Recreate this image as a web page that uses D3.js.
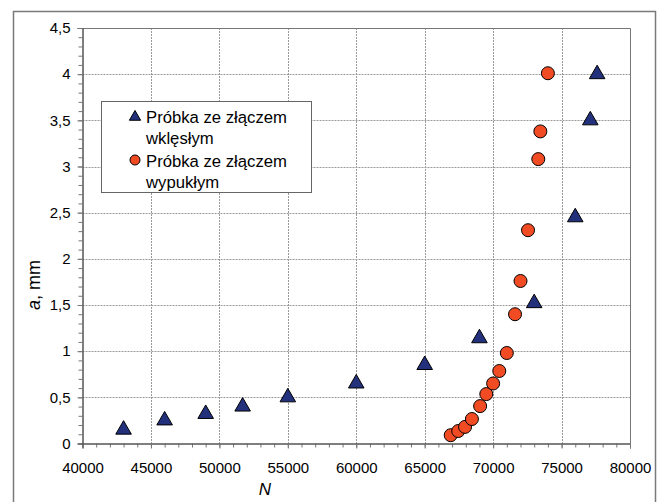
<!DOCTYPE html>
<html>
<head>
<meta charset="utf-8">
<style>
body { margin: 0; background: #fff; }
text { font-family: "Liberation Sans", Arial, sans-serif; fill: #000; }
.grid line { stroke: #9a9a9a; stroke-width: 1; stroke-dasharray: 2,1; }
</style>
<title></title>
</head>
<body>
<script src="https://cdn.jsdelivr.net/npm/d3@7"></script>
<script>

// Próbka ze złączem wklęsłym (triangles)
var concaveN = [43000, 46000, 49000, 51700, 55000, 60000, 65000, 69000, 73000, 76000, 77100, 77600];
var concaveA = [0.15, 0.25, 0.32, 0.40, 0.50, 0.65, 0.85, 1.14, 1.52, 2.45, 3.50, 4.00];

// Próbka ze złączem wypukłym (circles)
var convexN = [66900, 67450, 67950, 68450, 69050, 69500, 70000, 70450, 71000, 71600, 72000, 72550, 73300, 73450, 74000];
var convexA = [0.09, 0.135, 0.18, 0.265, 0.405, 0.535, 0.65, 0.785, 0.98, 1.40, 1.76, 2.31, 3.08, 3.38, 4.01];

var xTicks = [40000, 45000, 50000, 55000, 60000, 65000, 70000, 75000, 80000];
var yTicks = [0, 0.5, 1, 1.5, 2, 2.5, 3, 3.5, 4, 4.5];
var legendLabels = [["Próbka ze złączem", "wklęsłym"], ["Próbka ze złączem", "wypukłym"]];

var width = 660, height = 502;
var pL = 82.5, pR = 630, pT = 28, pB = 443.5;

var svg = d3.select("body").append("svg")
    .attr("width", width)
    .attr("height", height);

// outer frame
svg.append("rect")
    .attr("x", 13.5).attr("y", 11.5)
    .attr("width", 642).attr("height", 500)
    .attr("fill", "none")
    .attr("stroke", "#7a7a7a")
    .attr("stroke-width", 1.5);

var x = d3.scaleLinear().domain([40000, 80000]).range([pL, pR]);
var y = d3.scaleLinear().domain([0, 4.5]).range([pB, pT]);

var fmt = function(d) { return String(d).replace(".", ","); };

// grid
var grid = svg.append("g").attr("class", "grid");
grid.selectAll(".gx")
    .data(xTicks.slice(1, -1))
    .enter().append("line")
    .attr("x1", function(d) { return Math.round(x(d)) + 0.5; })
    .attr("x2", function(d) { return Math.round(x(d)) + 0.5; })
    .attr("y1", pT).attr("y2", pB);
grid.selectAll(".gy")
    .data(yTicks.slice(1, -1))
    .enter().append("line")
    .attr("y1", function(d) { return Math.round(y(d)) + 0.5; })
    .attr("y2", function(d) { return Math.round(y(d)) + 0.5; })
    .attr("x1", pL).attr("x2", pR);

// plot border top/right
svg.append("path")
    .attr("d", "M" + pL + "," + (pT + 0.5) + "H" + (pR + 0.5) + "V" + pB)
    .attr("fill", "none")
    .attr("stroke", "#777");

// axes
var xAxis = d3.axisBottom(x)
    .tickValues(xTicks)
    .tickSize(5)
    .tickPadding(14)
    .tickFormat(function(d) { return d; });
var xMinor = d3.axisBottom(x)
    .tickValues(d3.range(40000, 80001, 1000))
    .tickSize(4)
    .tickFormat("");
var yAxis = d3.axisLeft(y)
    .tickValues(yTicks)
    .tickSize(5)
    .tickPadding(7)
    .tickFormat(fmt);
var yMinor = d3.axisLeft(y)
    .tickValues(d3.range(0, 45.1, 1).map(function(v) { return v / 10; }))
    .tickSize(4)
    .tickFormat("");

function styleAxis(g) {
  g.select(".domain").attr("stroke", "#555");
  g.selectAll(".tick line").attr("stroke", "#777");
  g.selectAll("text").attr("font-size", "15px").attr("fill", "#000")
      .attr("font-family", "'Liberation Sans', Arial, sans-serif");
}

svg.append("g").attr("transform", "translate(0," + pB + ")").call(xMinor).call(styleAxis);
svg.append("g").attr("transform", "translate(0," + pB + ")").call(xAxis).call(styleAxis);
svg.append("g").attr("transform", "translate(" + pL + ",0)").call(yMinor).call(styleAxis);
svg.append("g").attr("transform", "translate(" + pL + ",0)").call(yAxis).call(styleAxis);

// axis titles
svg.append("text")
    .attr("x", 265).attr("y", 495)
    .attr("text-anchor", "middle")
    .attr("font-size", "17px")
    .attr("font-style", "italic")
    .text("N");

var yt = svg.append("text")
    .attr("transform", "translate(40,285) rotate(-90)")
    .attr("text-anchor", "middle")
    .attr("font-size", "18px");
yt.append("tspan").attr("font-style", "italic").text("a");
yt.append("tspan").text(", mm");

// data
var tri = d3.symbol().type(d3.symbolTriangle).size(105);
var concave = concaveN.map(function(n, i) { return {n: n, a: concaveA[i]}; });
var convex = convexN.map(function(n, i) { return {n: n, a: convexA[i]}; });

svg.append("g").selectAll("path")
    .data(concave)
    .enter().append("path")
    .attr("d", tri)
    .attr("transform", function(d) { return "translate(" + x(d.n) + "," + y(d.a) + ")"; })
    .attr("fill", "#23307c")
    .attr("stroke", "#000")
    .attr("stroke-width", 1);

svg.append("g").selectAll("circle")
    .data(convex)
    .enter().append("circle")
    .attr("cx", function(d) { return x(d.n); })
    .attr("cy", function(d) { return y(d.a); })
    .attr("r", 6.5)
    .attr("fill", "#f04b23")
    .attr("stroke", "#000")
    .attr("stroke-width", 1);

// legend
var lg = svg.append("g");
lg.append("rect")
    .attr("x", 101.5).attr("y", 101.5)
    .attr("width", 210).attr("height", 91)
    .attr("fill", "#fff")
    .attr("stroke", "#666");

lg.append("path")
    .attr("d", d3.symbol().type(d3.symbolTriangle).size(55))
    .attr("transform", "translate(135,117)")
    .attr("fill", "#23307c")
    .attr("stroke", "#000");
lg.append("circle")
    .attr("cx", 135).attr("cy", 160).attr("r", 5)
    .attr("fill", "#f04b23")
    .attr("stroke", "#000");

legendLabels.forEach(function(lines, i) {
  lines.forEach(function(s, j) {
    lg.append("text")
        .attr("x", 146)
        .attr("y", 123 + i * 44 + j * 21)
        .attr("font-size", "16.7px")
        .text(s);
  });
});

</script>
</body>
</html>
